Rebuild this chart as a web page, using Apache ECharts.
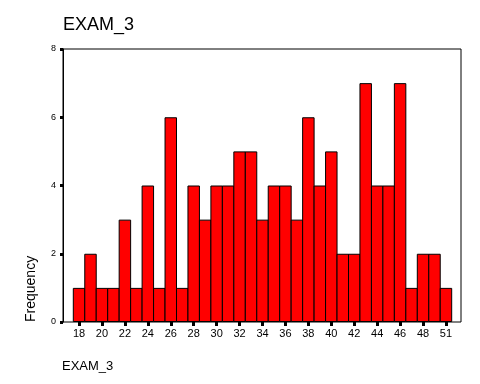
<!DOCTYPE html>
<html><head><meta charset="utf-8">
<script src="https://cdn.jsdelivr.net/npm/echarts@6/dist/echarts.min.js"></script>
<style>html,body{margin:0;padding:0;background:#fff}#c{width:480px;height:384px}</style>
</head><body><div id="c"></div>
<script>
var categories = ['18','19','20','21','22','23','24','25','26','27','28','29','30','31','32','33','34','35','36','37','38','39','40','41','42','43','44','45','46','47','48','49','51'];
var frequency = [1,2,1,1,3,1,4,1,6,1,4,3,4,4,5,5,3,4,4,3,6,4,5,2,2,7,4,4,7,1,2,2,1];
var yTicks = [0,2,4,6,8];

var font = '"Liberation Sans", Arial, sans-serif';
var yMin = yTicks[0], yMax = yTicks[yTicks.length-1];
var barGridLeft = 73.3, barGridRight = 28.3;
var bandPx = (480 - barGridLeft - barGridRight) / categories.length;

var chart = echarts.init(document.getElementById('c'), null, {renderer:'canvas'});
chart.setOption({
  backgroundColor:'#fff',
  animation:false,
  title:{text:'EXAM_3', left:63, top:16, padding:0, textStyle:{fontSize:18, fontWeight:'normal', color:'#000', fontFamily:font}},
  grid:[
    {left:63, top:49, right:19, bottom:62, show:true, borderColor:'#000', borderWidth:1, backgroundColor:'transparent'},
    {left:barGridLeft, top:49, right:barGridRight, bottom:62, show:false}
  ],
  xAxis:[
    {gridIndex:0, type:'value', min:0, max:1, show:false},
    {gridIndex:1, type:'category', data:categories, boundaryGap:true,
      axisLine:{show:false},
      splitLine:{show:false},
      axisTick:{show:true, alignWithLabel:true, interval:1, length:4, lineStyle:{color:'#000', width:3}},
      axisLabel:{interval:1, margin:6, fontSize:11, color:'#000', fontFamily:font}}
  ],
  yAxis:[
    {gridIndex:0, type:'value', min:yMin, max:yMax, interval:2,
      axisLine:{show:true, onZero:false, lineStyle:{color:'#000', width:1}},
      splitLine:{show:false},
      axisTick:{show:true, length:3, lineStyle:{color:'#000', width:3}},
      axisLabel:{margin:7, fontSize:9, color:'#000', fontFamily:font}},
    {gridIndex:1, type:'value', min:yMin, max:yMax, interval:2, show:false, splitLine:{show:false}}
  ],
  graphic:[
    {type:'text', left:62, top:360, style:{text:'EXAM_3', fontSize:13, fill:'#000', fontFamily:font}},
    {type:'text', x:38, y:322, rotation:Math.PI/2, style:{text:'Frequency', fontSize:14, fill:'#000', fontFamily:font, textAlign:'left', textVerticalAlign:'bottom'}}
  ],
  series:[{type:'bar', xAxisIndex:1, yAxisIndex:1, barWidth:bandPx + 1, data:frequency,
    itemStyle:{color:'#ff0000', borderColor:'#000', borderWidth:1}}]
});
</script></body></html>
